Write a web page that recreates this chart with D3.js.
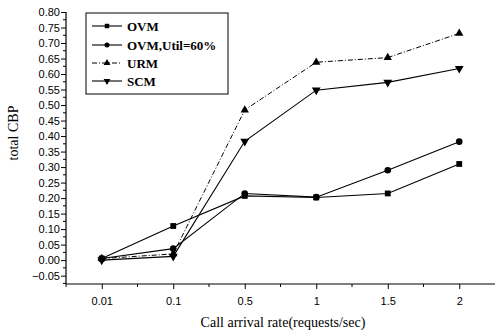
<!DOCTYPE html>
<html><head><meta charset="utf-8">
<script src="https://cdn.jsdelivr.net/npm/d3@7"></script>
<style>body{margin:0;background:#fff}svg{display:block}</style>
</head><body>
<svg id="c" width="495" height="333"></svg>
<script>
const categories = ["0.01","0.1","0.5","1","1.5","2"];
const ovm     = [0.005, 0.110, 0.207, 0.202, 0.215, 0.310];
const ovmUtil = [0.005, 0.037, 0.215, 0.203, 0.290, 0.382];
const urm     = [0.005, 0.020, 0.484, 0.638, 0.653, 0.731];
const scm     = [0.000, 0.012, 0.383, 0.548, 0.573, 0.618];
const seriesNames = ["OVM","OVM,Util=60%","URM","SCM"];
const yTicks = d3.range(-0.05, 0.8001, 0.05).map(v => +v.toFixed(2));

const series = [
  {name: seriesNames[0], values: ovm,     symbol: d3.symbolSquare,   dash: null,        size: 34},
  {name: seriesNames[1], values: ovmUtil, symbol: d3.symbolCircle,   dash: null,        size: 34},
  {name: seriesNames[2], values: urm,     symbol: d3.symbolTriangle, dash: "5,2,1,2",   size: 30},
  {name: seriesNames[3], values: scm,     symbol: d3.symbolTriangle, dash: null,        size: 34, flip: true}
];

const svg = d3.select("#c");
const L = 66, R = 495, T = 12, B = 284;
const x = d3.scalePoint().domain(categories).range([L, R]).padding(0.5);
const y = d3.scaleLinear().domain([-0.077, 0.80]).range([B, T]);

// axes
svg.append("line").attr("x1", L).attr("x2", L).attr("y1", T).attr("y2", B).attr("stroke", "#000").attr("stroke-width", 1.2);
svg.append("line").attr("x1", L).attr("x2", R).attr("y1", B).attr("y2", B).attr("stroke", "#000").attr("stroke-width", 1.2);

const yAxis = d3.axisLeft(y).tickValues(yTicks).tickSize(5).tickFormat(d3.format(".2f"));
const gy = svg.append("g").attr("transform", `translate(${L},0)`).call(yAxis);
gy.select(".domain").remove();
gy.selectAll("text").attr("font-family", "Liberation Sans, Arial, sans-serif").attr("font-size", 11).attr("fill", "#000").attr("x", -6);
// minor y ticks
const yMinor = d3.range(-0.075, 0.80, 0.05).map(v => +v.toFixed(3));
svg.append("g").selectAll("line").data(yMinor).join("line")
  .attr("x1", L - 3).attr("x2", L).attr("y1", d => y(d)).attr("y2", d => y(d)).attr("stroke", "#000");

const xAxis = d3.axisBottom(x).tickSize(5);
const gx = svg.append("g").attr("transform", `translate(0,${B})`).call(xAxis);
gx.select(".domain").remove();
gx.selectAll("text").attr("font-family", "Liberation Sans, Arial, sans-serif").attr("font-size", 11).attr("fill", "#000").attr("dy", "1.2em");
// minor x ticks at midpoints
const step = x.step();
const xMinor = categories.map(c => x(c) - step / 2);
svg.append("g").selectAll("line").data(xMinor).join("line")
  .attr("x1", d => d).attr("x2", d => d).attr("y1", B).attr("y2", B + 3).attr("stroke", "#000");

// titles
svg.append("text").attr("x", 283).attr("y", 327).attr("text-anchor", "middle")
  .attr("font-family", "Liberation Serif, Times New Roman, serif").attr("font-size", 14).text("Call arrival rate(requests/sec)");
svg.append("text").attr("transform", "translate(18,133) rotate(-90)").attr("text-anchor", "middle")
  .attr("font-family", "Liberation Serif, Times New Roman, serif").attr("font-size", 14).text("total CBP");

// lines
const line = d3.line().x((d, i) => x(categories[i])).y(d => y(d));
series.forEach(s => {
  svg.append("path").datum(s.values).attr("d", line).attr("fill", "none").attr("stroke", "#000")
    .attr("stroke-width", s.dash ? 1 : 1.1).attr("stroke-dasharray", s.dash);
  svg.append("g").selectAll("path").data(s.values).join("path")
    .attr("d", d3.symbol().type(s.symbol).size(s.size))
    .attr("transform", (d, i) => `translate(${x(categories[i])},${y(d)})${s.flip ? " rotate(180)" : ""}`)
    .attr("fill", "#000");
});

// legend
const lg = svg.append("g");
lg.append("rect").attr("x", 86).attr("y", 13).attr("width", 142).attr("height", 81)
  .attr("fill", "#fff").attr("stroke", "#000").attr("stroke-width", 1);
const rowY = [26, 45, 63, 81];
series.forEach((s, i) => {
  const yy = rowY[i];
  lg.append("line").attr("x1", 92).attr("x2", 122).attr("y1", yy).attr("y2", yy)
    .attr("stroke", "#000").attr("stroke-width", 1.1).attr("stroke-dasharray", s.dash ? "5,2,1,2" : null);
  lg.append("path").attr("d", d3.symbol().type(s.symbol).size(20))
    .attr("transform", `translate(107,${yy})${s.flip ? " rotate(180)" : ""}`).attr("fill", "#000");
  lg.append("text").attr("x", 127).attr("y", yy + 4.5)
    .attr("font-family", "Liberation Serif, Times New Roman, serif").attr("font-size", 13).attr("font-weight", "bold")
    .text(s.name);
});
</script>
</body></html>
